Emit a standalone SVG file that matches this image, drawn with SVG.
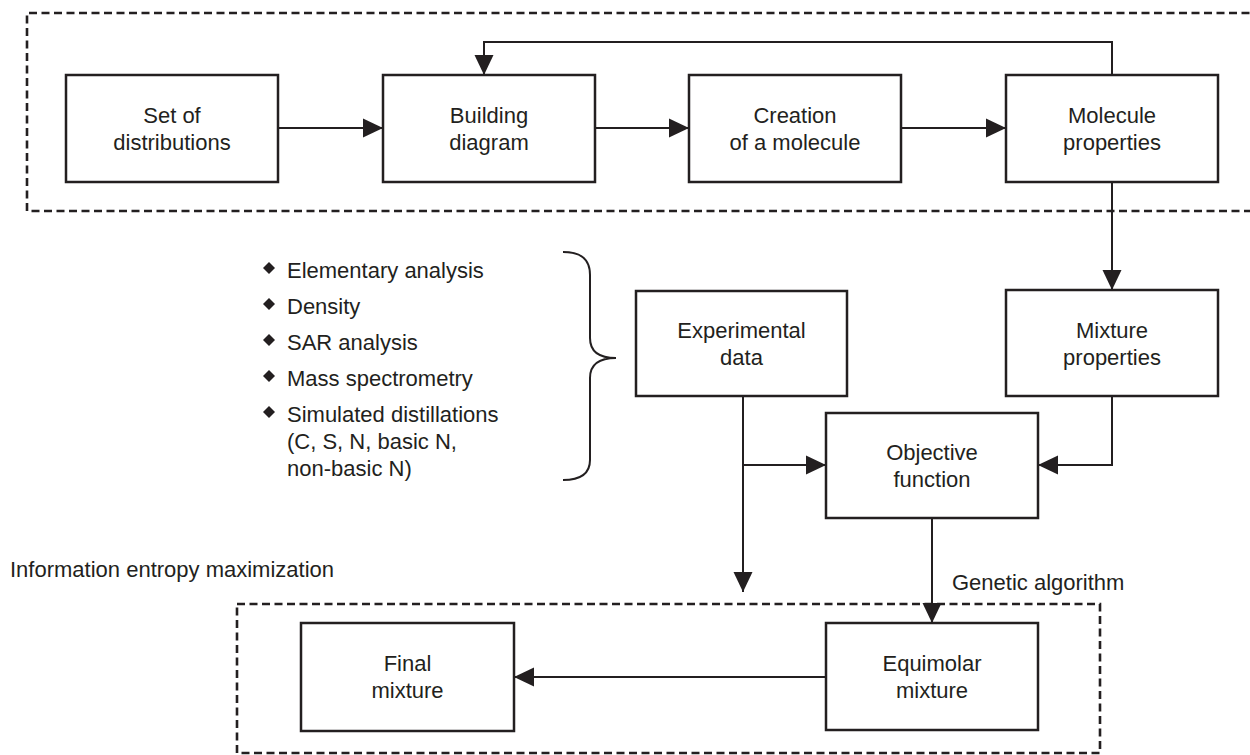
<svg xmlns="http://www.w3.org/2000/svg" width="1250" height="755" viewBox="0 0 1250 755">
<style>
  .box { fill: #ffffff; stroke: #231f20; stroke-width: 2.5; }
  .dash { fill: none; stroke: #231f20; stroke-width: 2.6; stroke-dasharray: 8 4.5; }
  .line { fill: none; stroke: #231f20; stroke-width: 2; }
  text { font-family: "Liberation Sans", Arial, sans-serif; font-size: 22px; fill: #231f20; }
  .c { text-anchor: middle; }
  .dia { fill: #231f20; }
</style>
<defs>
  <marker id="arr" markerUnits="userSpaceOnUse" markerWidth="20" markerHeight="20" refX="20" refY="10" orient="auto">
    <path d="M0,0.5 L20,10 L0,19.5 z" fill="#231f20"/>
  </marker>
</defs>
<rect width="1250" height="755" fill="#ffffff"/>

<g id="groups">
  <path class="dash" d="M1262,13 L27,13 L27,211 L1262,211"/>
  <rect class="dash" x="237" y="604" width="863" height="149"/>
</g>

<g id="connectors">
  <line class="line" x1="278" y1="128" x2="383" y2="128" marker-end="url(#arr)"/>
  <line class="line" x1="595" y1="128" x2="689" y2="128" marker-end="url(#arr)"/>
  <line class="line" x1="901" y1="128" x2="1006" y2="128" marker-end="url(#arr)"/>
  <polyline class="line" points="1112,75 1112,42 484,42 484,75" marker-end="url(#arr)"/>
  <line class="line" x1="1112" y1="182" x2="1112" y2="290" marker-end="url(#arr)"/>
  <polyline class="line" points="1112,396 1112,465 1038,465" marker-end="url(#arr)"/>
  <line class="line" x1="743" y1="396" x2="743" y2="592" marker-end="url(#arr)"/>
  <line class="line" x1="743" y1="465" x2="826" y2="465" marker-end="url(#arr)"/>
  <line class="line" x1="932" y1="518" x2="932" y2="623" marker-end="url(#arr)"/>
  <line class="line" x1="826" y1="677" x2="514" y2="677" marker-end="url(#arr)"/>
</g>

<g id="set-of-distributions">
  <rect class="box" x="66" y="75" width="212" height="107"/>
  <text class="c" x="172" y="123">Set of</text>
  <text class="c" x="172" y="150">distributions</text>
</g>
<g id="building-diagram">
  <rect class="box" x="383" y="75" width="212" height="107"/>
  <text class="c" x="489" y="123">Building</text>
  <text class="c" x="489" y="150">diagram</text>
</g>
<g id="creation-of-molecule">
  <rect class="box" x="689" y="75" width="212" height="107"/>
  <text class="c" x="795" y="123">Creation</text>
  <text class="c" x="795" y="150">of a molecule</text>
</g>
<g id="molecule-properties">
  <rect class="box" x="1006" y="75" width="212" height="107"/>
  <text class="c" x="1112" y="123">Molecule</text>
  <text class="c" x="1112" y="150">properties</text>
</g>
<g id="experimental-data">
  <rect class="box" x="636" y="291" width="211" height="105"/>
  <text class="c" x="741.5" y="338">Experimental</text>
  <text class="c" x="741.5" y="365">data</text>
</g>
<g id="mixture-properties">
  <rect class="box" x="1006" y="290" width="212" height="106"/>
  <text class="c" x="1112" y="338">Mixture</text>
  <text class="c" x="1112" y="365">properties</text>
</g>
<g id="objective-function">
  <rect class="box" x="826" y="413" width="212" height="105"/>
  <text class="c" x="932" y="460">Objective</text>
  <text class="c" x="932" y="487">function</text>
</g>
<g id="equimolar-mixture">
  <rect class="box" x="826" y="623" width="212" height="107"/>
  <text class="c" x="932" y="671">Equimolar</text>
  <text class="c" x="932" y="698">mixture</text>
</g>
<g id="final-mixture">
  <rect class="box" x="301" y="623" width="213" height="108"/>
  <text class="c" x="407.5" y="671">Final</text>
  <text class="c" x="407.5" y="698">mixture</text>
</g>

<g id="data-list">
  <path class="dia" d="M269,262 L275,268 L269,274 L263,268 z"/>
  <text x="287" y="278">Elementary analysis</text>
  <path class="dia" d="M269,298 L275,304 L269,310 L263,304 z"/>
  <text x="287" y="314">Density</text>
  <path class="dia" d="M269,334 L275,340 L269,346 L263,340 z"/>
  <text x="287" y="350">SAR analysis</text>
  <path class="dia" d="M269,370 L275,376 L269,382 L263,376 z"/>
  <text x="287" y="386">Mass spectrometry</text>
  <path class="dia" d="M269,406 L275,412 L269,418 L263,412 z"/>
  <text x="287" y="422">Simulated distillations</text>
  <text x="287" y="449">(C, S, N, basic N,</text>
  <text x="287" y="476">non-basic N)</text>
  <path class="line" d="M563,252 C580,252 590,258 590,275 L590,338 C590,352 600,358 616,358 C600,358 590,364 590,378 L590,460 C590,474 580,480 563,480"/>
</g>

<g id="labels">
  <text x="10" y="577">Information entropy maximization</text>
  <text x="952" y="590">Genetic algorithm</text>
</g>
</svg>
